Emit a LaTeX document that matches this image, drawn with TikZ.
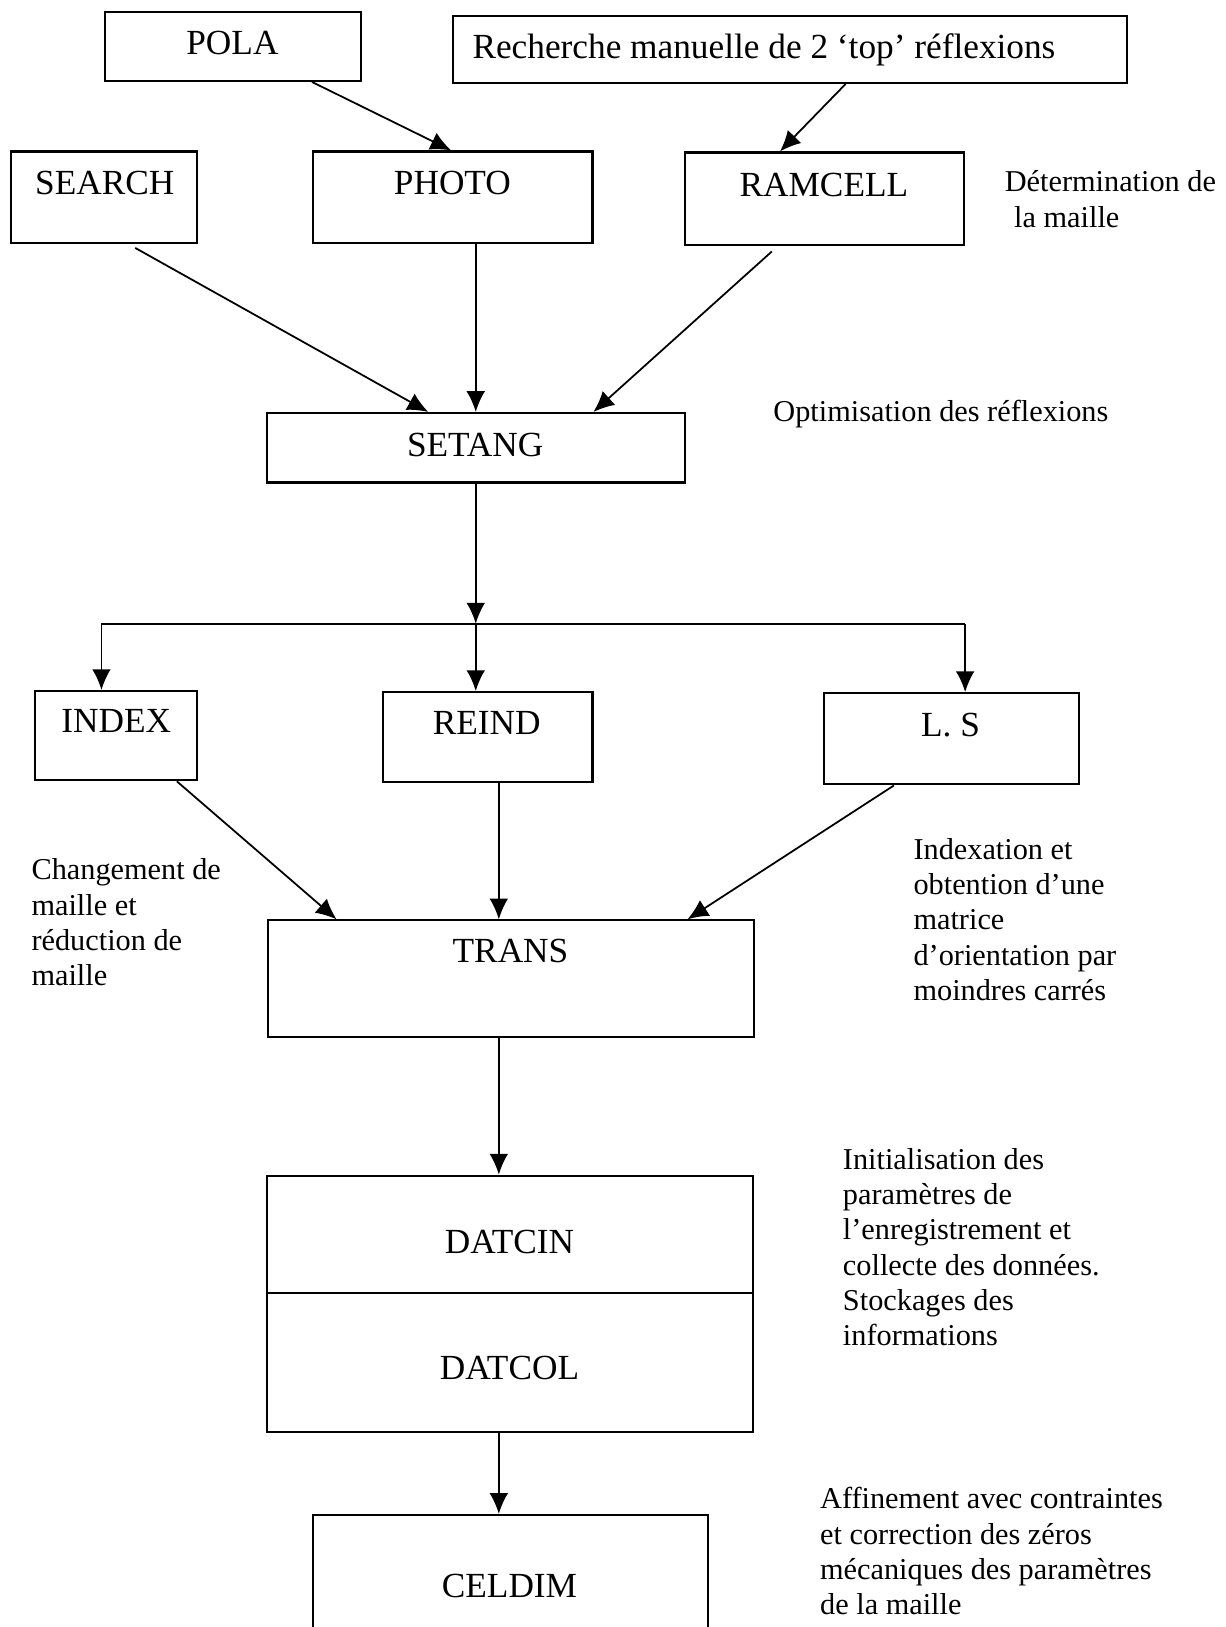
\documentclass[tikz,border=0pt]{standalone}
\usepackage{fontspec}
\setmainfont{Liberation Serif}
\usetikzlibrary{arrows.meta,calc,fit}
\begin{document}
\begin{tikzpicture}[x=0.5pt,y=-0.5pt,
  box/.style={draw,line width=1pt,inner sep=0pt},
  tag/.style={font=\fontsize{17}{20}\selectfont,inner sep=0pt,anchor=base},
  note/.style={font=\fontsize{14.6}{17}\selectfont,inner sep=0pt,anchor=base west,align=left},
  link/.style={line width=0.85pt,-{Latex[length=10pt,width=9pt]}},
  plain/.style={line width=0.85pt}]
\useasboundingbox (0,0) rectangle (1181,1568);

% boxes
\node[box,fit={(101,12) (348,78)}] (pola) {};
\node[box,fit={(437,15) (1086,80)}] (rech) {};
\node[box,fit={(11,146) (190,234)}] (search) {};
\node[box,fit={(302,146) (571,234)}] (photo) {};
\node[box,fit={(660,147) (929,236)}] (ramcell) {};
\node[box,fit={(257,398) (660,465)}] (setang) {};
\node[box,fit={(34,666) (190,752)}] (index) {};
\node[box,fit={(369,667) (571,754)}] (reind) {};
\node[box,fit={(794,668) (1040,756)}] (ls) {};
\node[box,fit={(258,887) (727,999)}] (trans) {};
\node[box,fit={(257,1133) (726,1380)}] (datc) {};
\draw[line width=1pt] (datc.west |- 0,1246) coordinate (divl) -- (datc.east |- 0,1246) coordinate (divr);
\node[box,fit={(302,1460) (682,1600)}] (celdim) {};

% box labels
\node[tag] (t-pola) at (224,53) {POLA};
\node[tag,anchor=base west] (t-rech) at (455,56) {Recherche manuelle de 2 ‘top’ réflexions};
\node[tag] (t-search) at (101,187) {SEARCH};
\node[tag] (t-photo) at (436,187) {PHOTO};
\node[tag] (t-ramcell) at (794,189) {RAMCELL};
\node[tag] (t-setang) at (458,440) {SETANG};
\node[tag] (t-index) at (112,706) {INDEX};
\node[tag] (t-reind) at (469,708) {REIND};
\node[tag] (t-ls) at (916,710) {L. S};
\node[tag] (t-trans) at (492,928) {TRANS};
\node[tag] (t-datcin) at (491,1208) {DATCIN};
\node[tag] (t-datcol) at (491,1329) {DATCOL};
\node[tag] (t-celdim) at (491,1540) {CELDIM};

% side notes (anchored on the baseline of their last line)
\node[note] (n-maille) at (968,219) {Détermination de\\\hspace*{4.5pt}la maille};
\node[note] (n-optim) at (745,406) {Optimisation des réflexions};
\node[note] (n-chang) at (30,950) {Changement de\\maille et\\réduction de\\maille};
\node[note] (n-index) at (880,964) {Indexation et\\obtention d’une\\matrice\\d’orientation par\\moindres carrés};
\node[note] (n-init) at (812,1297) {Initialisation des\\paramètres de\\l’enregistrement et\\collecte des données.\\Stockages des\\informations};
\node[note] (n-affin) at (790,1556) {Affinement avec contraintes\\et correction des zéros\\mécaniques des paramètres\\de la maille};

% upper connectors
\draw[link] ($(pola.south west)!0.806!(pola.south east)$) -- ($(photo.north west)!0.494!(photo.north east)$);
\draw[link] ($(rech.south west)!0.582!(rech.south east)$) -- ($(ramcell.north west)!0.342!(ramcell.north east)$);
\draw[link,shorten <=4pt] ($(search.south west)!0.626!(search.south east)$) -- ($(setang.north west)!0.387!(setang.north east)$);
\draw[link] (setang.north |- photo.south) -- (setang.north);
\draw[link,shorten <=4pt] ($(ramcell.south west)!0.335!(ramcell.south east)$) -- ($(setang.north west)!0.78!(setang.north east)$);

% branching below SETANG
\coordinate (split) at ($(setang.south)+(0,135)$);
\draw[link] (setang.south) -- (split);
\coordinate (iTop) at ($(index.north west)!0.41!(index.north east)$);
\coordinate (lTop) at ($(ls.north west)!0.553!(ls.north east)$);
\draw[plain] (split -| iTop) -- (split -| lTop);
\draw[link] (split -| iTop) -- (iTop);
\draw[link] (split) -- (split |- reind.north);
\draw[link] (split -| lTop) -- (lTop);

% converging on TRANS
\coordinate (mid) at ($(trans.north west)!0.475!(trans.north east)$);
\draw[link] ($(index.south west)!0.87!(index.south east)$) -- ($(trans.north west)!0.143!(trans.north east)$);
\draw[link] (mid |- reind.south) -- (mid);
\draw[link] ($(ls.south west)!0.276!(ls.south east)$) -- ($(trans.north west)!0.861!(trans.north east)$);

% lower chain
\draw[link] (mid |- trans.south) -- (mid |- datc.north);
\draw[link] (mid |- datc.south) -- (mid |- celdim.north);
\end{tikzpicture}
\end{document}
